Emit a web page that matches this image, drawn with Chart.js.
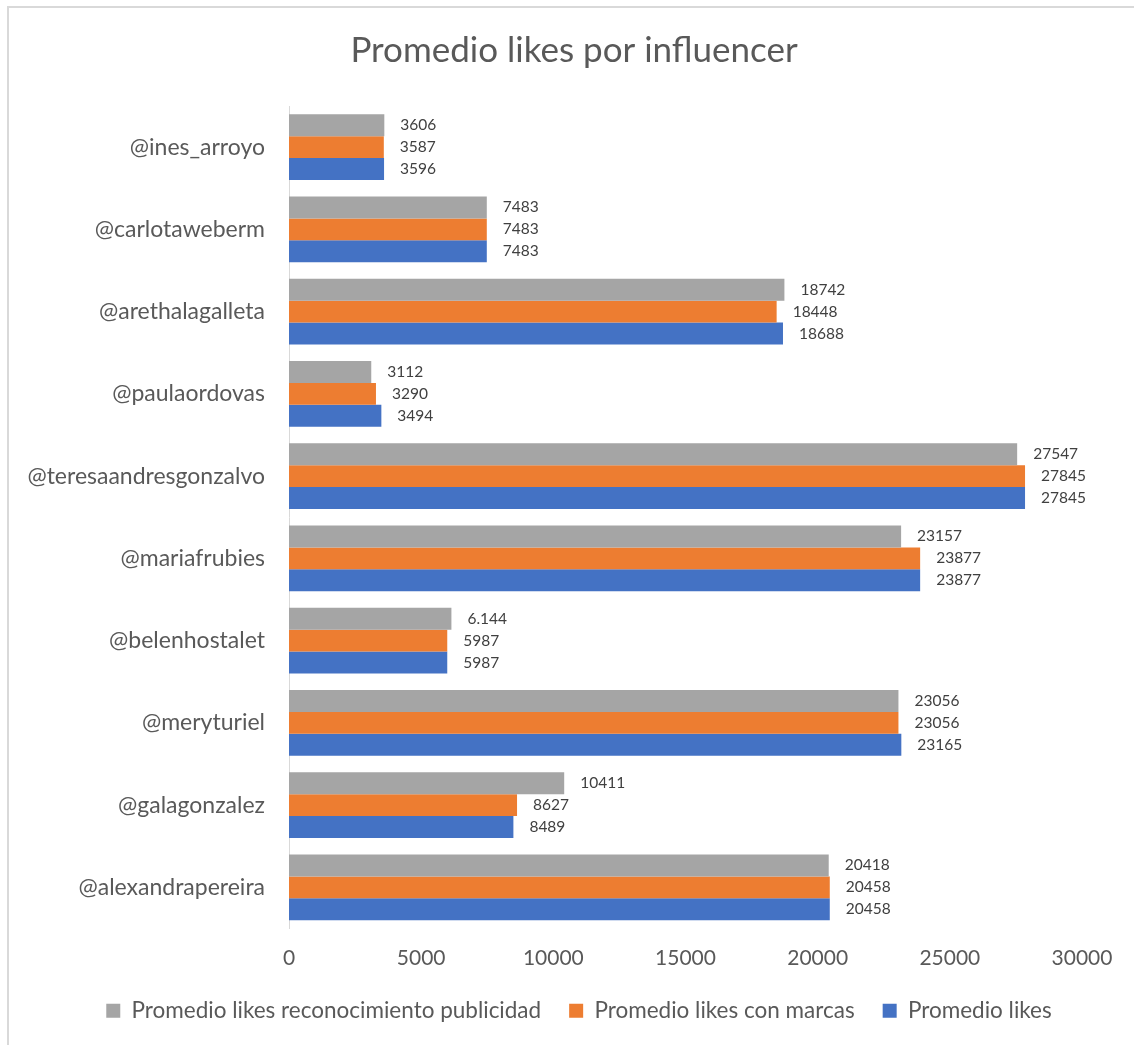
<!DOCTYPE html>
<html>
<head>
<meta charset="utf-8">
<script src="https://cdn.jsdelivr.net/npm/chart.js@4.4.1/dist/chart.umd.min.js"></script>
<style>
  html, body { margin: 0; padding: 0; background: #ffffff; overflow: hidden; }
  #wrap { position: relative; width: 1134px; height: 1045px; }
  #frame { position: absolute; left: 7px; top: 6px; width: 1140px; height: 1037px;
           border-left: 2px solid #d9d9d9; border-top: 2px solid #d9d9d9; pointer-events: none; }
  canvas { position: absolute; left: 0; top: 0; }
</style>
</head>
<body>
<div id="wrap">
  <canvas id="c" width="1134" height="1045"></canvas>
  <div id="frame"></div>
</div>
<script>
const categories = ["@ines_arroyo", "@carlotaweberm", "@arethalagalleta", "@paulaordovas", "@teresaandresgonzalvo", "@mariafrubies", "@belenhostalet", "@meryturiel", "@galagonzalez", "@alexandrapereira"];
const seriesNames = ["Promedio likes reconocimiento publicidad", "Promedio likes con marcas", "Promedio likes"];
const likesPublicidad = [3606, 7483, 18742, 3112, 27547, 23157, 6144, 23056, 10411, 20418];
const likesMarcas     = [3587, 7483, 18448, 3290, 27845, 23877, 5987, 23056, 8627, 20458];
const likes           = [3596, 7483, 18688, 3494, 27845, 23877, 5987, 23165, 8489, 20458];
const labelsPublicidad = ["3606", "7483", "18742", "3112", "27547", "23157", "6.144", "23056", "10411", "20418"];
const labelsMarcas     = likesMarcas.map(String);
const labelsLikes      = likes.map(String);
const xTicks = [0, 5000, 10000, 15000, 20000, 25000, 30000];

const FONT = "Lato";
const TEXT = "#595959";

const dataLabelPlugin = {
  id: "dataLabels",
  afterLayout(chart) {
    // let the long category names extend to the left edge without being clipped
    chart.scales.y.left = 0;
    // nudge the title slightly left to match the original centring
    if (chart.titleBlock) { chart.titleBlock.left -= 5; chart.titleBlock.right -= 5; }
  },
  afterDatasetsDraw(chart) {
    const ctx = chart.ctx;
    const allLabels = [labelsPublicidad, labelsMarcas, labelsLikes];
    ctx.save();
    ctx.font = "15.5px " + FONT;
    ctx.fillStyle = "#404040";
    ctx.textAlign = "left";
    ctx.textBaseline = "middle";
    chart.data.datasets.forEach((ds, di) => {
      const meta = chart.getDatasetMeta(di);
      meta.data.forEach((bar, i) => {
        ctx.fillText(allLabels[di][i], bar.x + 16, bar.y);
      });
    });
    ctx.restore();
  }
};

new Chart(document.getElementById("c"), {
  type: "bar",
  data: {
    labels: categories,
    datasets: [
      { label: seriesNames[0], data: likesPublicidad, backgroundColor: "#A5A5A5" },
      { label: seriesNames[1], data: likesMarcas, backgroundColor: "#ED7D31" },
      { label: seriesNames[2], data: likes, backgroundColor: "#4472C4" }
    ]
  },
  options: {
    indexAxis: "y",
    responsive: false,
    animation: false,
    devicePixelRatio: 1,
    categoryPercentage: 0.8,
    barPercentage: 1.0,
    layout: { padding: { left: 76, right: 52, top: 0, bottom: 13 } },
    plugins: {
      title: {
        display: true,
        text: "Promedio likes por influencer",
        color: TEXT,
        font: { family: FONT, size: 35, weight: "normal" },
        padding: { top: 30, bottom: 34 }
      },
      legend: {
        display: true,
        position: "bottom",
        labels: {
          color: TEXT,
          font: { family: FONT, size: 22.5 },
          boxWidth: 14,
          boxHeight: 14,
          padding: 28
        }
      },
      tooltip: { enabled: false }
    },
    scales: {
      x: {
        min: 0,
        max: 30000,
        afterBuildTicks(scale) { scale.ticks = xTicks.map(v => ({ value: v })); },
        afterFit(scale) { scale.height = 43; },
        grid: { display: false, drawTicks: false },
        border: { display: false },
        ticks: { color: TEXT, font: { family: FONT, size: 21 }, padding: 17, maxRotation: 0,
                 callback: (v) => String(v) }
      },
      y: {
        afterFit(scale) { scale.width = 213; },
        grid: { display: false, drawTicks: false },
        border: { display: true, color: "#D9D9D9", width: 1 },
        ticks: { color: TEXT, font: { family: FONT, size: 23 }, padding: 24 }
      }
    }
  },
  plugins: [dataLabelPlugin]
});
</script>
</body>
</html>
